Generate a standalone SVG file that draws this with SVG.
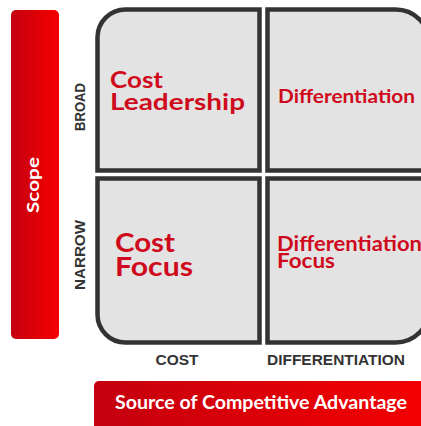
<svg xmlns="http://www.w3.org/2000/svg" width="421" height="426" viewBox="0 0 421 426">
  <style>
    .cell { fill: #e3e3e3; stroke: #333333; stroke-width: 4.5; stroke-linejoin: miter; }
    .title { font-family: "Lato", "Open Sans", "Liberation Sans", sans-serif; font-weight: 700; fill: #cf0a1d; }
    .axis { font-family: "Liberation Sans", "Open Sans", sans-serif; font-weight: 700; fill: #333333; font-size: 15px; }
    .band { font-family: "Lato", "Open Sans", "Liberation Sans", sans-serif; font-weight: 700; fill: #ffffff; }
  </style>
  <defs>
    <linearGradient id="redH" x1="0" y1="0" x2="1" y2="0">
      <stop offset="0" stop-color="#c4000f"/>
      <stop offset="1" stop-color="#f50000"/>
    </linearGradient>
  </defs>

  <rect width="421" height="426" fill="#ffffff"/>

  <!-- vertical axis band -->
  <g id="scope-band">
    <rect x="11" y="10" width="48" height="329" rx="5" fill="url(#redH)"/>
    <text class="band" font-size="17" text-anchor="middle" transform="translate(39,185) rotate(-90)" textLength="56" lengthAdjust="spacingAndGlyphs">Scope</text>
  </g>

  <!-- horizontal axis band -->
  <g id="advantage-band">
    <rect x="94" y="381" width="345" height="60" rx="5" fill="url(#redH)"/>
    <text class="band" font-size="19" x="261" y="409" text-anchor="middle" textLength="292" lengthAdjust="spacingAndGlyphs">Source of Competitive Advantage</text>
  </g>

  <!-- axis labels -->
  <g id="axis-labels">
    <text class="axis" text-anchor="middle" transform="translate(85,107) rotate(-90)" textLength="48" lengthAdjust="spacingAndGlyphs">BROAD</text>
    <text class="axis" text-anchor="middle" transform="translate(85,255) rotate(-90)" textLength="70" lengthAdjust="spacingAndGlyphs">NARROW</text>
    <text class="axis" x="177" y="365" text-anchor="middle" textLength="43" lengthAdjust="spacingAndGlyphs">COST</text>
    <text class="axis" x="336" y="365" text-anchor="middle" textLength="138" lengthAdjust="spacingAndGlyphs">DIFFERENTIATION</text>
  </g>

  <!-- quadrants -->
  <g id="cost-leadership">
    <path class="cell" d="M97.5,170.5 V37.5 A28,28 0 0 1 125.5,9.5 H259.5 V170.5 Z"/>
    <text class="title" font-size="22" x="110" y="88" textLength="53" lengthAdjust="spacingAndGlyphs">Cost</text>
    <text class="title" font-size="22" x="110" y="110" textLength="135" lengthAdjust="spacingAndGlyphs">Leadership</text>
  </g>

  <g id="differentiation">
    <path class="cell" d="M267.5,9.5 H395.5 A34,34 0 0 1 429.5,43.5 V170.5 H267.5 Z"/>
    <text class="title" font-size="19.5" x="278" y="103" textLength="137" lengthAdjust="spacingAndGlyphs">Differentiation</text>
  </g>

  <g id="cost-focus">
    <path class="cell" d="M97.5,178.5 H259.5 V342.5 H125.5 A28,28 0 0 1 97.5,314.5 Z"/>
    <text class="title" font-size="27" x="115" y="252" textLength="60" lengthAdjust="spacingAndGlyphs">Cost</text>
    <text class="title" font-size="27" x="115" y="276" textLength="78" lengthAdjust="spacingAndGlyphs">Focus</text>
  </g>

  <g id="differentiation-focus">
    <path class="cell" d="M267.5,178.5 H429.5 V308.5 A34,34 0 0 1 395.5,342.5 H267.5 Z"/>
    <text class="title" font-size="20" x="277" y="251" textLength="145" lengthAdjust="spacingAndGlyphs">Differentiation</text>
    <text class="title" font-size="20" x="277" y="268" textLength="58" lengthAdjust="spacingAndGlyphs">Focus</text>
  </g>

  <g id="connectors"></g>
</svg>
